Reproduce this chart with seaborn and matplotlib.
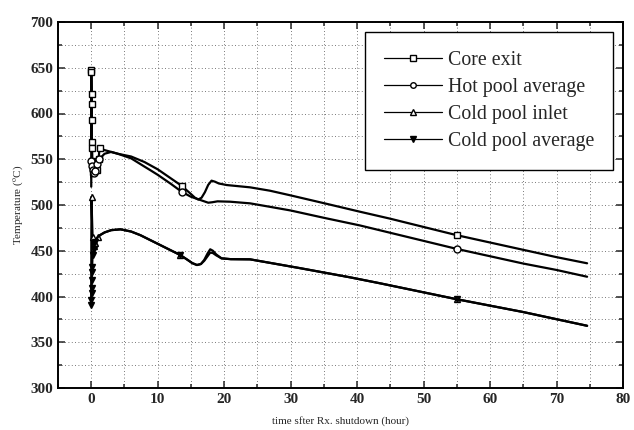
import numpy as np
import pandas as pd
import matplotlib
matplotlib.use("Agg")
import matplotlib.pyplot as plt
from matplotlib.lines import Line2D
from matplotlib.ticker import MultipleLocator
import seaborn as sns

# ---------------- data ----------------
core_t = [0, 0.01, 0.02, 0.04, 0.06, 0.08, 0.10, 0.13, 0.17, 0.22, 0.3, 0.5, 0.8,
          1.1, 1.25, 2, 3, 4, 6, 8, 10, 12, 13.6, 15, 15.6, 16.1, 16.6, 17.1, 17.6,
          18.1, 18.6, 19.2, 20.4, 23.9, 26.9, 30, 35, 40.4, 45, 50, 55, 60, 65, 70, 74.6]
core_v = [530, 648, 645, 621, 610, 593, 569, 562, 548, 542, 536, 535, 538,
          550, 562, 560, 558, 556, 553, 547, 539, 529, 521, 512, 508, 506, 508, 514, 522,
          526.6, 525.5, 523.5, 521.8, 519.3, 515.6, 510.5, 502, 492.7, 485, 476, 467,
          459, 451, 443, 436.3]
core_marks = [1, 2, 3, 4, 5, 6, 7, 8, 9, 10, 12, 13, 14, 22, 40]

hot_t = [0, 0.01, 0.03, 0.05, 0.08, 0.12, 0.2, 0.35, 0.6, 0.9, 1.2, 2, 3, 4, 6, 8,
         8.9, 10, 12, 13.6, 15, 16.4, 17.6, 18.2, 19, 20.9, 23.9, 26.9, 30, 35, 40.4,
         45, 50, 55, 60, 65, 70, 74.6]
hot_v = [520, 545, 548, 546, 543, 540, 538, 535, 537, 545, 550, 556, 558, 556, 551, 542,
         538, 533, 523, 514.5, 509, 505.5, 502.5, 503, 504, 503.6, 501.8, 498, 494, 486, 477.7,
         469.6, 460.8, 452, 444, 436, 429, 421.6]
hot_marks = [2, 4, 6, 7, 8, 9, 10, 19, 33]

inlet_t = [0, 0.02, 0.05, 0.1, 0.2, 0.35, 0.6, 1.0, 1.35, 2, 3, 4.4, 6, 7.4, 10,
           13.4, 14.5, 15.2, 15.9, 16.5, 17, 17.5, 17.9, 18.3, 18.8, 19.6, 21, 23.9,
           31.4, 38.9, 43.4, 55, 65, 74.6]
inlet_v = [392, 470, 509, 490, 465, 455, 459, 465, 467.2, 470, 472.5, 473.4, 471, 467, 457.6,
           445.3, 440, 436.5, 434.4, 435.5, 440, 447, 451.6, 450, 446, 441.7, 440.8, 440.6,
           431, 421, 414.5, 397, 383, 368]
inlet_marks = [2, 4, 5, 6, 7, 15, 31]

avg_t = [0, 0.02, 0.04, 0.06, 0.08, 0.1, 0.13, 0.2, 0.35, 0.6, 1.0, 1.35, 2, 3, 4.4, 6,
         7.4, 10, 13.4, 14.5, 15.2, 15.9, 16.5, 17, 17.5, 17.9, 18.3, 18.8, 19.6, 21,
         23.9, 31.4, 38.9, 43.4, 55, 65, 74.6]
avg_v = [390.7, 396.2, 403.5, 408.9, 418, 427.1, 432.6, 445, 452, 460, 465, 467.2, 470,
         472.5, 473.4, 471, 467, 457.6, 445.3, 440, 436.5, 434.4, 435.5, 439, 444, 448,
         447.5, 445, 441.7, 440.8, 440.6, 431, 421, 414.5, 397, 383, 368]
avg_marks = [0, 1, 2, 3, 4, 5, 6, 7, 8, 9, 18, 34]

labels = ["Core exit", "Hot pool average", "Cold pool inlet", "Cold pool average"]
x_ticks = [0, 10, 20, 30, 40, 50, 60, 70, 80]
y_ticks = [300, 350, 400, 450, 500, 550, 600, 650, 700]

# ---------------- styling ----------------
sns.set_style("ticks")
plt.rcParams["font.family"] = ["Liberation Serif", "DejaVu Serif"]
plt.rcParams["mathtext.fontset"] = "stix"

fig = plt.figure(figsize=(6.34, 4.30), dpi=100)
ax = fig.add_axes([58 / 634, 1 - 388 / 430, 565 / 634, 366 / 430])

series = [
    (core_t, core_v, core_marks, "s", "white", 5),
    (hot_t, hot_v, hot_marks, "o", "white", 5),
    (inlet_t, inlet_v, inlet_marks, "^", "white", 5),
    (avg_t, avg_v, avg_marks, "v", "black", 5),
]
for (t, v, mk, m, fc, ms), lab in zip(series, labels):
    df = pd.DataFrame({"t": t, "v": v})
    sns.lineplot(data=df, x="t", y="v", ax=ax, sort=False, estimator=None,
                 color="black", linewidth=1.6, marker=m, markevery=mk,
                 markersize=ms, markerfacecolor=fc, markeredgecolor="black",
                 markeredgewidth=1.0, legend=False)

ax.set_xlim(-5, 80)
ax.set_ylim(300, 700)
ax.set_xticks(x_ticks)
ax.set_yticks(y_ticks)
ax.xaxis.set_minor_locator(MultipleLocator(5))
ax.yaxis.set_minor_locator(MultipleLocator(25))
ax.grid(which="both", linestyle=(0, (1, 3)), color="black", linewidth=0.6, alpha=0.7)
ax.tick_params(which="both", direction="in", top=True, right=True, width=1.1)
ax.tick_params(which="major", length=5, labelsize=11)
ax.tick_params(which="minor", length=3)
for lab in ax.get_xticklabels() + ax.get_yticklabels():
    lab.set_fontweight("bold")
for s in ax.spines.values():
    s.set_linewidth(1.4)
    s.set_color("black")

ax.set_xlabel("time sfter Rx. shutdown (hour)", fontsize=8, labelpad=7)
ax.set_ylabel("Temperature ($^{\\rm o}$C)", fontsize=8, labelpad=4)

handles = [
    Line2D([], [], color="black", lw=0.9, marker="s", ms=4, mfc="white", mec="black"),
    Line2D([], [], color="black", lw=0.9, marker="o", ms=4, mfc="white", mec="black"),
    Line2D([], [], color="black", lw=0.9, marker="^", ms=4, mfc="white", mec="black"),
    Line2D([], [], color="black", lw=0.9, marker="v", ms=4, mfc="black", mec="black"),
]
leg = ax.legend(handles, labels, loc="upper right", bbox_to_anchor=(1.0, 1.0),
                bbox_transform=ax.transAxes, borderaxespad=0.5,
                fontsize=14.3, frameon=True, fancybox=False, edgecolor="black",
                framealpha=1, handlelength=2.9, handletextpad=0.3,
                labelspacing=0.4, borderpad=0.95)
leg.get_frame().set_linewidth(1.0)

fig.savefig("out.png", dpi=100)
